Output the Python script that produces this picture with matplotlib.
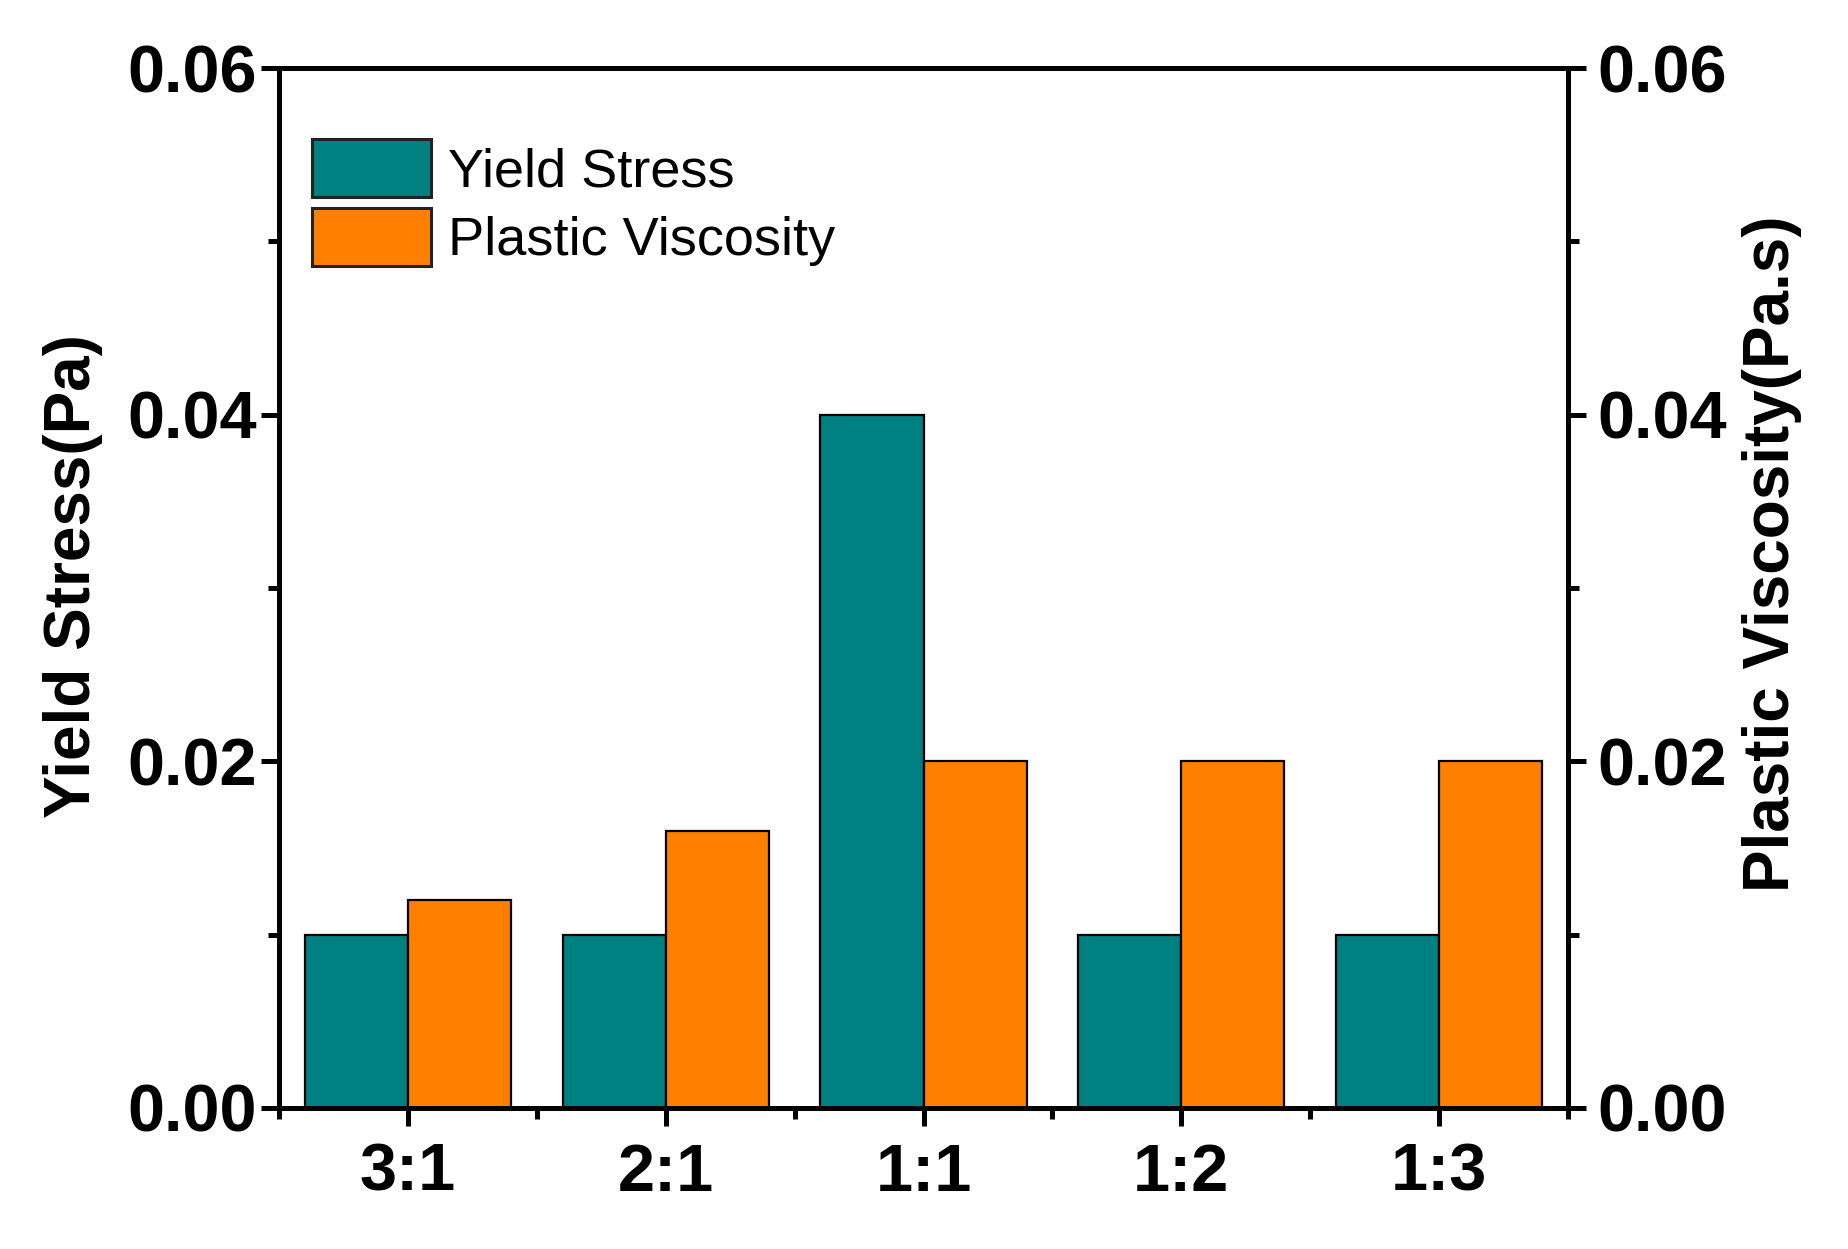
import numpy as np
import matplotlib
matplotlib.use('Agg')
import matplotlib.pyplot as plt
from matplotlib.ticker import MultipleLocator, FixedLocator, FormatStrFormatter

plt.rcParams['font.family'] = ['Liberation Sans', 'DejaVu Sans']

ratios = ['3:1', '2:1', '1:1', '1:2', '1:3']
yield_stress = [0.010, 0.010, 0.040, 0.010, 0.010]
plastic_visc = [0.012, 0.016, 0.020, 0.020, 0.020]

teal = '#008080'
orange = '#FF8000'

fig = plt.figure(figsize=(18.49, 12.49), dpi=100)
ax = fig.add_axes([0.151, 0.113, 0.697, 0.8325])
ax2 = ax.twinx()

x = np.arange(len(ratios))
w = 0.4
b1 = ax.bar(x - w/2, yield_stress, w, color=teal, edgecolor='black', linewidth=1.6, label='Yield Stress')
b2 = ax2.bar(x + w/2, plastic_visc, w, color=orange, edgecolor='black', linewidth=1.6, label='Plastic Viscosity')

for a in (ax, ax2):
    a.set_ylim(0, 0.06)
    a.set_xlim(-0.5, 4.5)
    a.yaxis.set_major_locator(MultipleLocator(0.02))
    a.yaxis.set_minor_locator(MultipleLocator(0.01))
    a.yaxis.set_major_formatter(FormatStrFormatter('%.2f'))
    for s in a.spines.values():
        s.set_linewidth(3.6)

ax.set_xticks(x)
ax.set_xticklabels(ratios)
ax.xaxis.set_minor_locator(FixedLocator(np.arange(-0.5, 5, 1.0)))

ax.tick_params(axis='both', which='major', direction='out', length=13, width=3.6,
               labelsize=48, pad=3)
ax.tick_params(axis='both', which='minor', direction='out', length=8, width=3.6)
ax.tick_params(axis='x', which='major', pad=12)
ax.tick_params(top=False, right=False, which='both')
ax2.tick_params(axis='y', which='major', direction='out', length=13, width=3.6,
                labelsize=48, pad=8)
ax2.tick_params(axis='y', which='minor', direction='out', length=8, width=3.6)

for lab in ax.get_xticklabels() + ax.get_yticklabels() + ax2.get_yticklabels():
    lab.set_fontweight('bold')

ax.set_ylabel('Yield Stress(Pa)', fontsize=46, fontweight='bold', labelpad=17)
ax.yaxis.set_label_coords(-0.137, 0.511)
ax2.set_ylabel('Plastic Viscosity(Pa.s)', fontsize=46, fontweight='bold', labelpad=8)
ax2.yaxis.set_label_coords(1.135, 0.533)

leg = ax2.legend([b1, b2], ['Yield Stress', 'Plastic Viscosity'], loc='upper left',
                 frameon=False, fontsize=39, handlelength=2.2, handleheight=1.28,
                 labelspacing=0.2, handletextpad=0.3, borderaxespad=0, borderpad=0,
                 bbox_to_anchor=(0.0256, 0.932))
for p in leg.get_patches():
    p.set_edgecolor('#222222')
    p.set_linewidth(2.2)

fig.savefig('out.png', dpi=100, facecolor='white')
